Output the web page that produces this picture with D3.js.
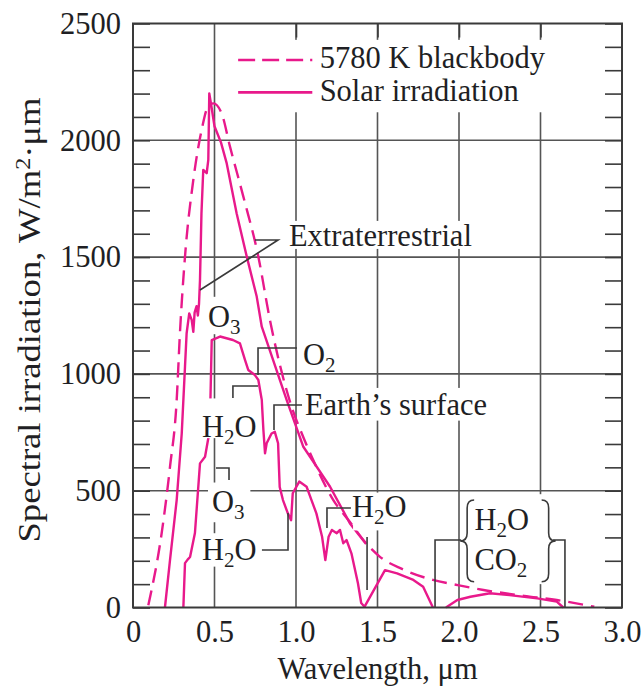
<!DOCTYPE html>
<html>
<head>
<meta charset="utf-8">
<script src="https://cdn.jsdelivr.net/npm/d3@7"></script>
<style>
  body { margin: 0; background: #fff; }
  text { font-family: "Liberation Serif", "Times New Roman", serif; fill: #1f1f24; }
</style>
</head>
<body>
<script>
const WIDTH = 641;
const HEIGHT = 691;
const PINK = "#e8198b";
const INK = "#3a3a3a";
const FS = 30.5;

// 5780 K blackbody (dashed), [wavelength um, W/m2.um]
const blackbody = [
  [0.094, 10], [0.176, 319], [0.227, 602], [0.268, 888], [0.288, 1175],
  [0.319, 1502], [0.37, 1830], [0.421, 2044], [0.46, 2144], [0.493, 2158],
  [0.544, 2115], [0.595, 1973], [0.677, 1759], [0.769, 1502], [0.84, 1231],
  [0.98, 845], [1.035, 746], [1.1, 640], [1.229, 460], [1.33, 367],
  [1.43, 275], [1.515, 217], [1.65, 165], [1.84, 118], [2.0, 95],
  [2.15, 75], [2.4, 50], [2.6, 32], [2.83, 3]
];

// Extraterrestrial solar irradiation
const extraterrestrial = [
  [0.196, 0], [0.227, 203], [0.268, 460], [0.299, 745], [0.319, 1031],
  [0.329, 1174], [0.345, 1259], [0.36, 1231], [0.37, 1180], [0.378, 1262],
  [0.39, 1290], [0.398, 1250], [0.405, 1300], [0.411, 1402], [0.42, 1687],
  [0.431, 1873], [0.452, 1859], [0.462, 1916], [0.468, 2201], [0.48, 2150],
  [0.5, 2060], [0.54, 1990], [0.575, 1901], [0.636, 1687], [0.698, 1502],
  [0.759, 1331], [0.79, 1202], [0.943, 888], [1.045, 688], [1.209, 517],
  [1.331, 360], [1.43, 272]
];

// Solar irradiation at earth's surface (null = gap)
const surface = [
  [0.309, 0], [0.319, 190], [0.335, 205], [0.35, 216], [0.38, 319],
  [0.411, 617], [0.442, 645], [0.46, 717], [0.472, 760], [0.475, 888],
  [0.483, 1145], [0.534, 1160], [0.613, 1145], [0.656, 1131], [0.687, 1060],
  [0.707, 1017], [0.748, 995], [0.769, 974], [0.79, 888], [0.8, 760],
  [0.81, 660], [0.82, 703], [0.83, 717], [0.85, 745], [0.87, 752],
  [0.89, 703], [0.9, 516], [0.92, 460], [0.95, 403], [0.97, 374],
  [0.98, 489], [1.02, 539], [1.065, 517], [1.095, 460], [1.125, 403],
  [1.16, 303], [1.18, 203], [1.2, 303], [1.22, 332], [1.25, 318],
  [1.27, 332], [1.29, 275], [1.31, 289], [1.34, 232], [1.38, 104],
  [1.4, 19], [1.42, 3], [1.546, 160], [1.62, 146], [1.72, 118],
  [1.78, 89], [1.84, 0], [1.88, null], [1.92, 0], [1.99, 32],
  [2.07, 46], [2.19, 61], [2.31, 53], [2.48, 39], [2.6, 25], [2.64, 0]
];

const xTicks = [0, 0.5, 1.0, 1.5, 2.0, 2.5, 3.0];
const yTicks = [0, 500, 1000, 1500, 2000, 2500];
const legendLabels = ["5780 K blackbody", "Solar irradiation"];

// annotation texts: [label parts, wavelength, value] (parts: [text, isSub])
const notes = [
  [[["Extraterrestrial", 0]], 0.957, 1548],
  [[["O", 0], ["3", 1]], 0.46, 1201],
  [[["O", 0], ["2", 1]], 1.043, 1038],
  [[["H", 0], ["2", 1], ["O", 0]], 0.423, 730],
  [[["Earth\u2019s surface", 0]], 1.055, 824],
  [[["O", 0], ["3", 1]], 0.485, 409],
  [[["H", 0], ["2", 1], ["O", 0]], 0.423, 203],
  [[["H", 0], ["2", 1], ["O", 0]], 1.344, 387],
  [[["H", 0], ["2", 1], ["O", 0]], 2.095, 332],
  [[["CO", 0], ["2", 1]], 2.095, 161]
];

// leader lines, in data units
const leaders = [
  [[0.748, 1573], [0.89, 1573], [0.411, 1359]],
  [[0.613, 897], [0.613, 948], [0.767, 948]],
  [[0.767, 995], [0.767, 1111], [1.006, 1111]],
  [[0.865, 760], [0.865, 867], [1.037, 867]],
  [[0.509, 597], [0.589, 597], [0.589, 546]],
  [[0.791, 246], [0.951, 246], [0.951, 405]],
  [[1.19, 340], [1.19, 426], [1.337, 426]],
  [[1.436, 302], [1.436, 75]],
  [[1.853, 0], [1.853, 289], [2.012, 289]],
  [[2.577, 289], [2.65, 289], [2.65, 0]]
];

// label gaps in the grid: [x0, x1, v0, v1]
const gaps = [
  [0.45, 0.685, 1170, 1330],
  [0.415, 0.78, 725, 895],
  [0.46, 0.72, 365, 535],
  [0.42, 0.78, 175, 318],
  [1.04, 2.25, 800, 940],
  [1.35, 1.7, 330, 492],
  [2.03, 2.57, 100, 485],
  [1.03, 1.27, 1020, 1120],
  [0.945, 2.16, 1535, 1655],
  [0.6, 2.6, 2120, 2430]
];

const x = d3.scaleLinear([0, 3], [133, 622]);
const y = d3.scaleLinear([0, 2500], [607.5, 23.5]);

const svg = d3.select("body").append("svg")
  .attr("width", WIDTH)
  .attr("height", HEIGHT);

svg.append("rect").attr("width", WIDTH).attr("height", HEIGHT).attr("fill", "#fff");

// grid
const grid = svg.append("g").attr("stroke", "#555").attr("stroke-width", 1.6);
grid.selectAll(".h").data([500, 1000, 1500, 2000]).join("line")
  .attr("x1", x(0)).attr("x2", x(3))
  .attr("y1", d => y(d)).attr("y2", d => y(d));
grid.selectAll(".v").data([0.5, 1.0, 1.5, 2.0, 2.5]).join("line")
  .attr("class", "v")
  .attr("y1", y(0)).attr("y2", y(2500))
  .attr("x1", d => x(d)).attr("x2", d => x(d));

// minor ticks
svg.append("g").attr("transform", `translate(${x(0)},0)`)
  .call(d3.axisLeft(y).tickValues(d3.range(0, 2501, 100)).tickSize(-17).tickFormat(""))
  .call(g => g.select(".domain").remove())
  .call(g => g.selectAll("line").attr("stroke", INK).attr("stroke-width", 1.6));
svg.append("g").attr("transform", `translate(${x(3)},0)`)
  .call(d3.axisRight(y).tickValues(d3.range(0, 2501, 100)).tickSize(-17).tickFormat(""))
  .call(g => g.select(".domain").remove())
  .call(g => g.selectAll("line").attr("stroke", INK).attr("stroke-width", 1.6));

// curves
const line = d3.line().x(d => x(d[0])).y(d => y(d[1])).defined(d => d[1] !== null);
svg.append("path").datum(blackbody)
  .attr("d", line.curve(d3.curveMonotoneX))
  .attr("fill", "none").attr("stroke", PINK).attr("stroke-width", 2.4)
  .attr("stroke-dasharray", "15,8");
line.curve(d3.curveLinear);
svg.append("path").datum(extraterrestrial).attr("d", line)
  .attr("fill", "none").attr("stroke", PINK).attr("stroke-width", 2.4)
  .attr("stroke-linejoin", "round");
svg.append("path").datum(surface).attr("d", line)
  .attr("fill", "none").attr("stroke", PINK).attr("stroke-width", 2.4)
  .attr("stroke-linejoin", "round");

// white gaps behind the labels
svg.append("g").selectAll("rect").data(gaps).join("rect")
  .attr("x", d => x(d[0])).attr("width", d => x(d[1]) - x(d[0]))
  .attr("y", d => y(d[3])).attr("height", d => y(d[2]) - y(d[3]))
  .attr("fill", "#fff");

// leaders
svg.append("g").selectAll("path").data(leaders).join("path")
  .attr("d", d3.line().x(d => x(d[0])).y(d => y(d[1])))
  .attr("fill", "none").attr("stroke", INK).attr("stroke-width", 1.6);

// braces around H2O / CO2
function brace(xc, v0, v1, dir) {
  const top = y(v1), bot = y(v0), mid = (top + bot) / 2, w = 7 * dir;
  return `M${xc + w},${top} Q${xc},${top} ${xc},${top + 8} L${xc},${mid - 8} ` +
    `Q${xc},${mid} ${xc - w},${mid} Q${xc},${mid} ${xc},${mid + 8} ` +
    `L${xc},${bot - 8} Q${xc},${bot} ${xc + w},${bot}`;
}
svg.append("path").attr("d", brace(x(2.05), 110, 460, 1))
  .attr("fill", "none").attr("stroke", INK).attr("stroke-width", 1.6);
svg.append("path").attr("d", brace(x(2.55), 110, 460, -1))
  .attr("fill", "none").attr("stroke", INK).attr("stroke-width", 1.6);

// annotation text
const noteText = svg.append("g").selectAll("text").data(notes).join("text")
  .attr("x", d => x(d[1])).attr("y", d => y(d[2]))
  .attr("font-size", FS);
noteText.each(function (d) {
  const t = d3.select(this);
  d[0].forEach(p => {
    const s = t.append("tspan").text(p[0]);
    if (p[1]) s.attr("font-size", 21).attr("dy", 7);
    else if (t.selectAll("tspan").size() > 1) s.attr("dy", -7);
  });
});

// legend
const legend = svg.append("g");
legend.append("line").attr("x1", x(0.645)).attr("x2", x(1.1))
  .attr("y1", y(2344)).attr("y2", y(2344))
  .attr("stroke", PINK).attr("stroke-width", 2.6).attr("stroke-dasharray", "17,7");
legend.append("line").attr("x1", x(0.645)).attr("x2", x(1.1))
  .attr("y1", y(2205)).attr("y2", y(2205))
  .attr("stroke", PINK).attr("stroke-width", 2.6);
legend.selectAll("text").data(legendLabels).join("text")
  .attr("x", x(1.145)).attr("y", (d, i) => y(2310 - i * 140))
  .attr("font-size", FS)
  .text(d => d);

// axes labels
svg.append("g").attr("transform", `translate(0,${y(0)})`)
  .call(d3.axisBottom(x).tickValues(xTicks).tickSize(0).tickPadding(13)
    .tickFormat(d => d === 0 ? "0" : d3.format(".1f")(d)))
  .call(g => g.select(".domain").remove())
  .call(g => g.selectAll("text").attr("font-size", FS).attr("font-family", null));
svg.append("g").attr("transform", `translate(${x(0)},0)`)
  .call(d3.axisLeft(y).tickValues(yTicks).tickSize(0).tickPadding(12).tickFormat(d3.format("d")))
  .call(g => g.select(".domain").remove())
  .call(g => g.selectAll("text").attr("font-size", FS).attr("font-family", null));

// top ticks
svg.append("g").attr("transform", `translate(0,${y(2500)})`)
  .call(d3.axisTop(x).tickValues([1.0, 1.5, 2.0, 2.5]).tickSize(-14).tickFormat(""))
  .call(g => g.select(".domain").remove())
  .call(g => g.selectAll("line").attr("stroke", INK).attr("stroke-width", 1.6));

svg.append("text")
  .attr("x", (x(0) + x(3)) / 2).attr("y", 679)
  .attr("text-anchor", "middle").attr("font-size", FS)
  .text("Wavelength, \u03bcm");

const yl = svg.append("text")
  .attr("transform", `translate(40,320) rotate(-90)`)
  .attr("text-anchor", "middle").attr("font-size", FS)
  .attr("textLength", 445).attr("lengthAdjust", "spacingAndGlyphs");
yl.append("tspan").text("Spectral irradiation, W/m");
yl.append("tspan").text("2").attr("font-size", 20).attr("dy", -10);
yl.append("tspan").text("\u00b7\u03bcm").attr("dy", 10);

// frame
svg.append("rect")
  .attr("x", x(0)).attr("y", y(2500))
  .attr("width", x(3) - x(0)).attr("height", y(0) - y(2500))
  .attr("fill", "none").attr("stroke", INK).attr("stroke-width", 2);
</script>
</body>
</html>
